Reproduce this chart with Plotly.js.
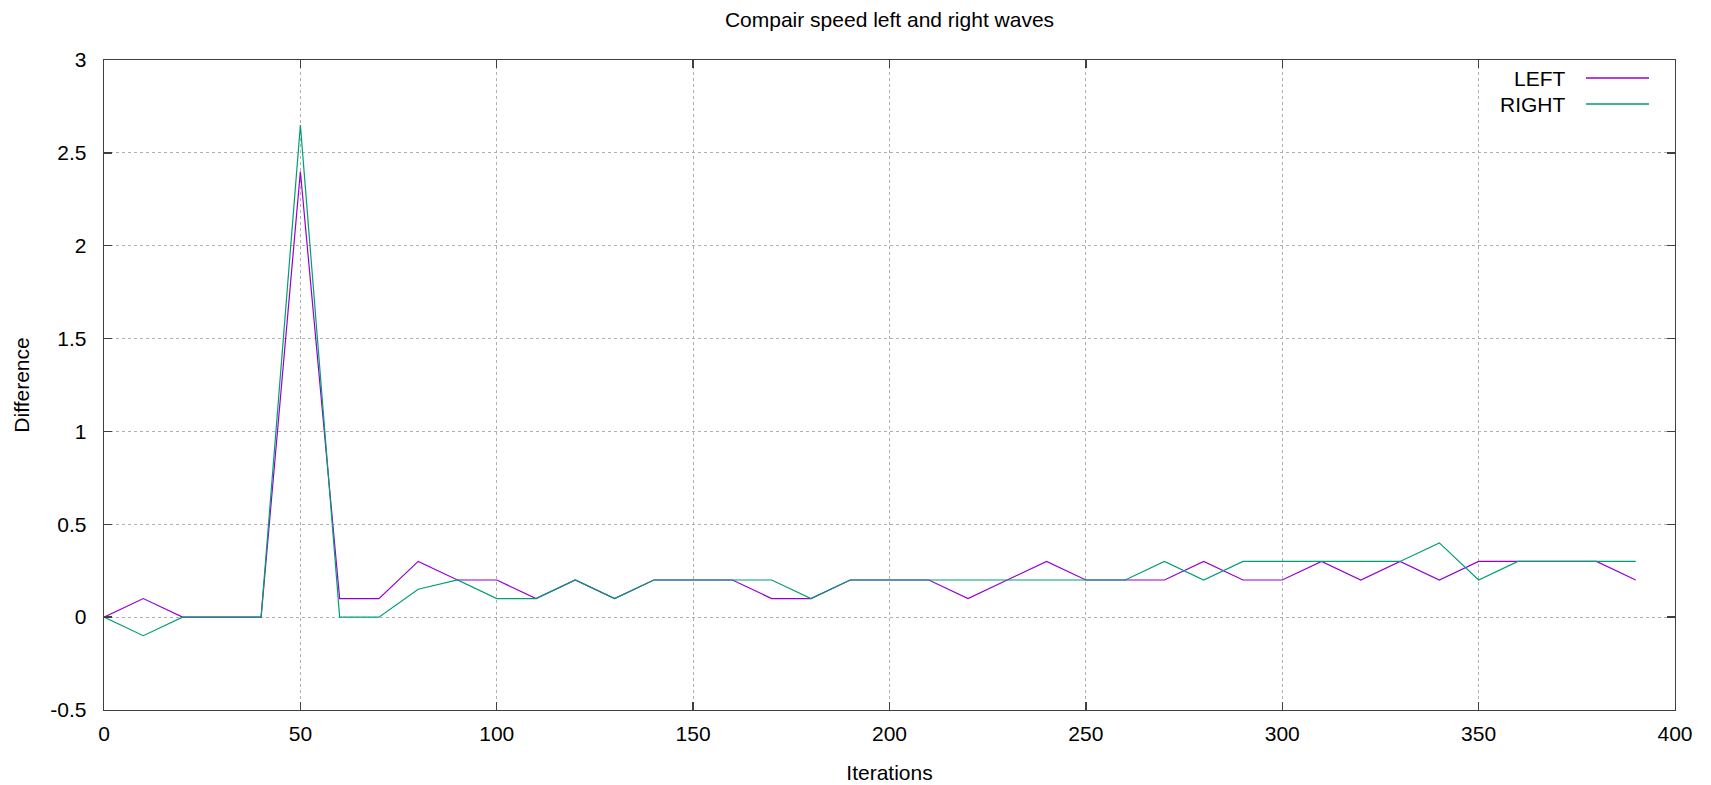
<!DOCTYPE html>
<html>
<head>
<meta charset="utf-8">
<script src="https://cdn.plot.ly/plotly-3.0.1.min.js"></script>
<style>
  html, body { margin: 0; padding: 0; background: #ffffff; }
  #chart { width: 1711px; height: 785px; }
</style>
</head>
<body>
<div id="chart"></div>
<script>
// ---- data ----
const iterations = [0, 10, 20, 30, 40, 50, 60, 70, 80, 90,
                    100, 110, 120, 130, 140, 150, 160, 170, 180, 190,
                    200, 210, 220, 230, 240, 250, 260, 270, 280, 290,
                    300, 310, 320, 330, 340, 350, 360, 370, 380, 390];
const leftValues = [0, 0.1, 0, 0, 0, 2.4, 0.1, 0.1, 0.3, 0.2,
                    0.2, 0.1, 0.2, 0.1, 0.2, 0.2, 0.2, 0.1, 0.1, 0.2,
                    0.2, 0.2, 0.1, 0.2, 0.3, 0.2, 0.2, 0.2, 0.3, 0.2,
                    0.2, 0.3, 0.2, 0.3, 0.2, 0.3, 0.3, 0.3, 0.3, 0.2];
const rightValues = [0, -0.1, 0, 0, 0, 2.65, 0, 0, 0.15, 0.2,
                     0.1, 0.1, 0.2, 0.1, 0.2, 0.2, 0.2, 0.2, 0.1, 0.2,
                     0.2, 0.2, 0.2, 0.2, 0.2, 0.2, 0.2, 0.3, 0.2, 0.3,
                     0.3, 0.3, 0.3, 0.3, 0.4, 0.2, 0.3, 0.3, 0.3, 0.3];
const seriesNames = ["LEFT", "RIGHT"];
const xTickVals = [0, 50, 100, 150, 200, 250, 300, 350, 400];
const xTickText = ["0", "50", "100", "150", "200", "250", "300", "350", "400"];
const yTickVals = [-0.5, 0, 0.5, 1, 1.5, 2, 2.5, 3];
const yTickText = ["-0.5", "0", "0.5", "1", "1.5", "2", "2.5", "3"];

// ---- style ----
const W = 1711, H = 785;
const M = { l: 104, r: 36, t: 60, b: 75 };
const colors = ["#9400d3", "#009e73"];
const FONT = "Liberation Sans, Arial, sans-serif";
const FS = 21;
const plotW = W - M.l - M.r, plotH = H - M.t - M.b;
const px2x = p => (p - M.l) / plotW;
const py2y = p => 1 - (p - M.t) / plotH;

const traces = [
  { x: iterations, y: leftValues, name: seriesNames[0], type: "scatter", mode: "lines",
    line: { color: colors[0], width: 1.2 }, showlegend: false },
  { x: iterations, y: rightValues, name: seriesNames[1], type: "scatter", mode: "lines",
    line: { color: colors[1], width: 1.2 }, showlegend: false }
];

const axisCommon = {
  showline: true, linecolor: "#404040", linewidth: 1.3, mirror: "ticks",
  ticks: "inside", ticklen: 8, tickwidth: 1.3, tickcolor: "#404040",
  showgrid: true, gridcolor: "#b0b0b0", griddash: "dot", gridwidth: 1,
  zeroline: false, tickfont: { family: FONT, size: FS, color: "#000" },
  automargin: false, fixedrange: true
};

// legend in gnuplot style (text right-aligned, sample on the right)
const legendRows = [78, 104];
const annotations = [];
const shapes = [];
seriesNames.forEach((n, i) => {
  annotations.push({ xref: "paper", yref: "paper", x: px2x(1568), y: py2y(legendRows[i]),
    xanchor: "right", yanchor: "middle", text: n, showarrow: false,
    font: { family: FONT, size: FS, color: "#000" } });
  shapes.push({ type: "line", xref: "paper", yref: "paper",
    x0: px2x(1586), x1: px2x(1649), y0: py2y(legendRows[i]), y1: py2y(legendRows[i]),
    line: { color: colors[i], width: 1.5 } });
});

const layout = {
  width: W, height: H, margin: M,
  paper_bgcolor: "#ffffff", plot_bgcolor: "#ffffff",
  font: { family: FONT, size: FS, color: "#000" },
  title: { text: "Compair speed left and right waves", font: { family: FONT, size: FS, color: "#000" },
    xref: "paper", x: 0.5, xanchor: "center", yref: "container", y: 1 - 20 / H, yanchor: "middle" },
  xaxis: Object.assign({}, axisCommon, {
    range: [0, 400], tickvals: xTickVals, ticktext: xTickText, ticklabelstandoff: 4,
    title: { text: "Iterations", font: { family: FONT, size: FS, color: "#000" }, standoff: 21 }
  }),
  yaxis: Object.assign({}, axisCommon, {
    range: [-0.5, 3], tickvals: yTickVals, ticktext: yTickText, ticklabelstandoff: 12,
    title: { text: "Difference", font: { family: FONT, size: FS, color: "#000" }, standoff: 15 }
  }),
  showlegend: false,
  annotations: annotations,
  shapes: shapes
};

Plotly.newPlot("chart", traces, layout, { displayModeBar: false, staticPlot: true });
</script>
</body>
</html>
